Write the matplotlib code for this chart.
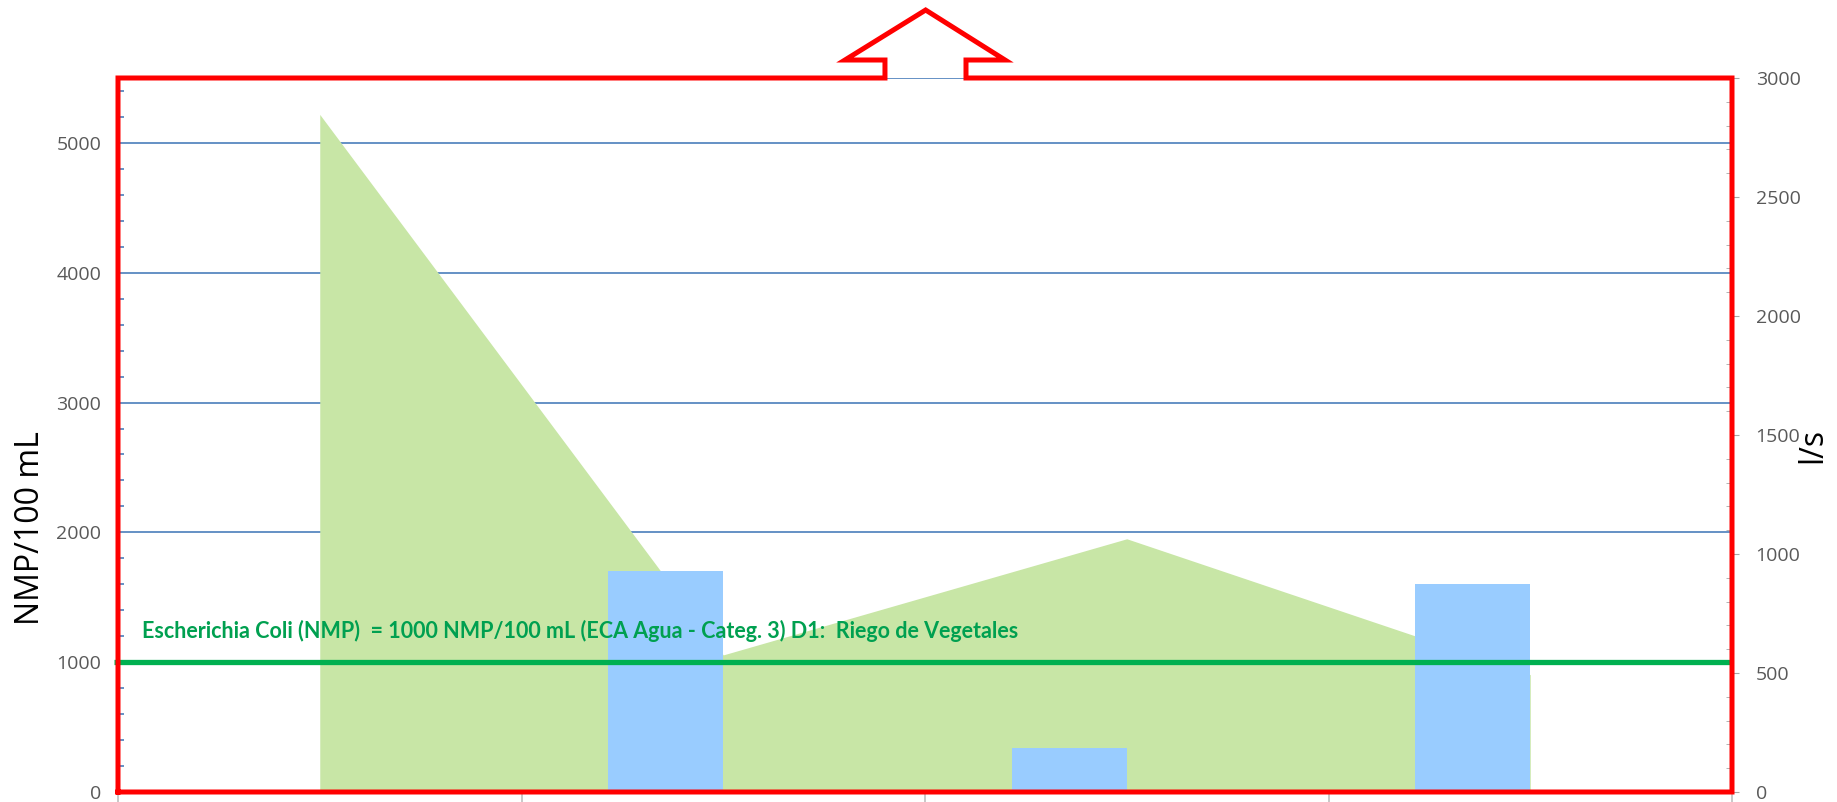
import numpy as np
import matplotlib
matplotlib.use("Agg")
import matplotlib.pyplot as plt
from matplotlib.lines import Line2D
from matplotlib.ticker import MultipleLocator

# Estaciones de monitoreo
estaciones = ["RChil1", "RChil2", "RChil3", "RChil4"]
# Escherichia coli (NMP/100 mL)
e_coli = [0, 1700, 340, 1600]
# Caudal (l/s)
caudal = [2847, 576, 1064, 493]
# Estandar de calidad ambiental (ECA)
eca_limite = 1000

plt.rcParams["font.family"] = ["Open Sans", "DejaVu Sans"]

W, H, DPI = 1837, 802, 100
fig = plt.figure(figsize=(W / DPI, H / DPI), dpi=DPI)
pos = [118 / W, 10 / H, (1732 - 118) / W, (792 - 78) / H]

grid_blue = "#4A7EBB"
tick_gray = "#595959"
x = np.arange(len(estaciones))

# Eje izquierdo: rejilla y escala NMP
ax = fig.add_axes(pos)
ax.set_xlim(-0.5, len(estaciones) - 0.5)
ax.set_ylim(0, 5500)
ax.yaxis.set_major_locator(MultipleLocator(1000))
ax.yaxis.set_minor_locator(MultipleLocator(200))
for yv in np.arange(1000, 5501, 1000):
    ax.axhline(yv, color=grid_blue, lw=1.2, zorder=0)
ax.axhline(5500, color=grid_blue, lw=1.2, zorder=0)
ax.tick_params(axis="y", which="major", length=0, labelsize=14,
               labelcolor=tick_gray, pad=12)
ax.tick_params(axis="y", which="minor", length=4, color=grid_blue,
               direction="in", width=1.2)
ax.set_xticks(np.arange(-0.5, len(estaciones), 1.0), minor=False)
ax.set_xticklabels([])
ax.set_xticks(x, minor=True)
ax.set_xticklabels(estaciones, minor=True)
ax.tick_params(axis="x", which="major", length=7, color="#BFBFBF", width=1.2)
ax.tick_params(axis="x", which="minor", length=0, pad=7, labelsize=14,
               labelcolor=tick_gray)
for s in ax.spines.values():
    s.set_visible(False)
ax.set_ylabel("NMP/100 mL", fontsize=23, color="black")
ax.yaxis.set_label_coords(-0.044, 0.37)

# Eje derecho: caudal como area
ax2 = ax.twinx()
ax2.set_ylim(0, 3000)
ax2.fill_between(x, caudal, 0, color="#C8E6A6", lw=0, zorder=1)
ax2.yaxis.set_major_locator(MultipleLocator(500))
ax2.yaxis.set_minor_locator(MultipleLocator(100))
ax2.tick_params(axis="y", which="major", length=5, color="#A6A6A6",
                direction="out", labelsize=14, labelcolor=tick_gray, pad=12)
ax2.tick_params(axis="y", which="minor", length=4, color="#A6A6A6",
                direction="in")
for s in ax2.spines.values():
    s.set_visible(False)
ax2.set_ylabel("l/s", fontsize=23, color="black", rotation=90)
ax2.yaxis.set_label_coords(1.04, 0.485)

# Barras de E. coli sobre el area
ax3 = fig.add_axes(pos, sharex=ax, sharey=ax)
ax3.patch.set_visible(False)
ax3.axis("off")
w = 0.285
ax3.bar(x - w / 2, e_coli, width=w, color="#99CCFF", lw=0, zorder=2)

# Linea del ECA
ax3.plot([-0.51, len(estaciones) - 0.5], [eca_limite, eca_limite],
         color="#00B050", lw=3.8, solid_capstyle="butt", clip_on=False, zorder=5)
ax3.text(-0.44, eca_limite + 185,
         "Escherichia Coli (NMP)  = 1000 NMP/100 mL (ECA Agua - Categ. 3) D1:  Riego de Vegetales",
         color="#00A050", fontsize=15.5, fontweight="bold", family=["Lato", "DejaVu Sans"],
         va="baseline", ha="left", zorder=6)

# Marco rojo con flecha hacia arriba
bx = [0.4752, 0.5254]
ox = [0.4504, 0.5496]
step, apex = 1.0252, 1.0952
px = [0, 0, bx[0], bx[0], ox[0], 0.5004, ox[1], bx[1], bx[1], 1, 1, 0]
py = [0, 1, 1, step, step, apex, step, step, 1, 1, 0, 0]
ax3.add_line(Line2D(px, py, transform=ax3.transAxes, color="#FF0000", lw=3.6,
                    solid_joinstyle="miter", clip_on=False, zorder=10))

ax.set_zorder(0)
ax2.set_zorder(1)
ax2.patch.set_visible(False)
ax3.set_zorder(2)

fig.savefig("out.png", dpi=DPI)
